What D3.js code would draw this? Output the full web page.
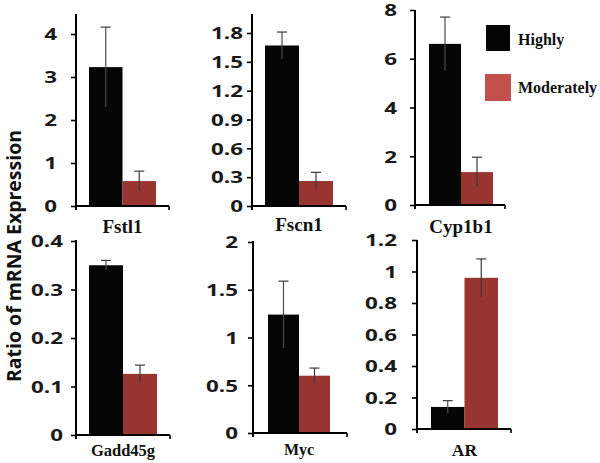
<!DOCTYPE html>
<html>
<head>
<meta charset="utf-8">
<script src="https://cdn.jsdelivr.net/npm/d3@7"></script>
<style>
html,body{margin:0;padding:0;background:#fff;}
svg{display:block;}
</style>
</head>
<body>
<svg id="chart" width="600" height="463"></svg>
<script>
// ---- data ----
const genes = ["Fstl1", "Fscn1", "Cyp1b1", "Gadd45g", "Myc", "AR"];
const groups = ["Highly", "Moderately"];
const highlyMean = [3.23, 1.67, 6.61, 0.35, 1.24, 0.14];
const highlyErr = [0.93, 0.14, 1.10, 0.01, 0.35, 0.04];
const moderatelyMean = [0.58, 0.26, 1.35, 0.126, 0.60, 0.96];
const moderatelyErr = [0.23, 0.09, 0.61, 0.018, 0.08, 0.12];
const yTicks = [
  [0, 1, 2, 3, 4],
  [0, 0.3, 0.6, 0.9, 1.2, 1.5, 1.8],
  [0, 2, 4, 6, 8],
  [0, 0.1, 0.2, 0.3, 0.4],
  [0, 0.5, 1, 1.5, 2],
  [0, 0.2, 0.4, 0.6, 0.8, 1, 1.2]
];
const yTitle = "Ratio of mRNA Expression";

// ---- layout (pixel placement of each panel) ----
const layout = [
  {ax: 76,  y0: 206, yMax: 34,  top: 14,  x0: 89,  x1: 156, xEnd: 169, base: 233, fs: 19, gap: 19},
  {ax: 252, y0: 206, yMax: 33,  top: 14,  x0: 265, x1: 333, xEnd: 346, base: 231, fs: 19, gap: 9},
  {ax: 415, y0: 205, yMax: 10,  top: 10,  x0: 429, x1: 493, xEnd: 505, base: 233, fs: 19, gap: 18},
  {ax: 76,  y0: 435, yMax: 241, top: 240, x0: 89,  x1: 157, xEnd: 170, base: 456, fs: 16.5, gap: 13},
  {ax: 253, y0: 433, yMax: 242, top: 241, x0: 268, x1: 330, xEnd: 347, base: 455, fs: 16, gap: 15},
  {ax: 417, y0: 429, yMax: 240, top: 240, x0: 431, x1: 498, xEnd: 511, base: 456, fs: 17.5, gap: 20}
];
const barColor = {Highly: "#050505", Moderately: "#983530"};
const legendColor = {Highly: "#050505", Moderately: "#c4504d"};
const SX = 1.4; // horizontal stretch of sans labels in the original

const svg = d3.select("#chart");

layout.forEach((L, i) => {
  const g = svg.append("g");
  const y = d3.scaleLinear().domain([0, d3.max(yTicks[i])]).range([L.y0, L.yMax]);
  const x = d3.scaleBand().domain(groups).range([L.x0, L.x1]).paddingInner(0);
  const means = [highlyMean[i], moderatelyMean[i]];
  const errs = [highlyErr[i], moderatelyErr[i]];
  const rows = groups.map((k, j) => ({k, v: means[j], e: errs[j]}));

  g.selectAll("rect.bar").data(rows).join("rect")
    .attr("class", "bar")
    .attr("x", d => x(d.k))
    .attr("width", x.bandwidth())
    .attr("y", d => y(d.v))
    .attr("height", d => L.y0 - y(d.v))
    .attr("fill", d => barColor[d.k]);

  // error bars
  const eb = g.selectAll("g.err").data(rows).join("g").attr("class", "err");
  eb.append("line")
    .attr("x1", d => x(d.k) + x.bandwidth() / 2)
    .attr("x2", d => x(d.k) + x.bandwidth() / 2)
    .attr("y1", d => y(d.v - d.e))
    .attr("y2", d => y(d.v + d.e))
    .attr("stroke", d => d.k === "Highly" ? "#4a4a4a" : "#3a3a3a")
    .attr("stroke-width", 1.2);
  eb.append("line")
    .attr("x1", d => x(d.k) + x.bandwidth() / 2 - 5)
    .attr("x2", d => x(d.k) + x.bandwidth() / 2 + 5)
    .attr("y1", d => y(d.v + d.e))
    .attr("y2", d => y(d.v + d.e))
    .attr("stroke", "#3a3a3a")
    .attr("stroke-width", 1.2);

  // y axis
  const ax = g.append("g")
    .attr("transform", `translate(${L.ax},0)`)
    .call(d3.axisLeft(y).tickValues(yTicks[i]).tickSize(5).tickFormat(d3.format("~g")));
  ax.select(".domain").remove();
  ax.selectAll(".tick line").attr("stroke", "#000").attr("stroke-width", 1.6);
  ax.selectAll(".tick text")
    .attr("x", -L.gap / SX)
    .attr("dy", "0.36em")
    .attr("transform", `scale(${SX},1)`)
    .attr("font-family", "'Open Sans', sans-serif")
    .attr("font-weight", "bold")
    .attr("font-size", 16)
    .attr("fill", "#1a1a1a");
  ax.append("line")
    .attr("x1", 0).attr("x2", 0)
    .attr("y1", L.y0 + 4).attr("y2", L.top)
    .attr("stroke", "#000").attr("stroke-width", 2);

  // x axis
  g.append("line")
    .attr("x1", L.ax).attr("x2", L.xEnd)
    .attr("y1", L.y0).attr("y2", L.y0)
    .attr("stroke", "#000").attr("stroke-width", 2);
  g.append("line")
    .attr("x1", L.xEnd).attr("x2", L.xEnd)
    .attr("y1", L.y0).attr("y2", L.y0 + 4)
    .attr("stroke", "#000").attr("stroke-width", 1.6);

  // category label
  g.append("text")
    .attr("x", x("Moderately"))
    .attr("y", L.base)
    .attr("text-anchor", "middle")
    .attr("font-family", "'Liberation Serif', 'Times New Roman', serif")
    .attr("font-weight", "bold")
    .attr("font-size", L.fs)
    .attr("fill", "#111")
    .text(genes[i]);
});

// legend
const legendPos = [{x: 486, y: 25, w: 24, h: 26, ty: 45}, {x: 485, y: 74, w: 26, h: 27, ty: 93}];
groups.forEach((k, j) => {
  const p = legendPos[j];
  svg.append("rect").attr("x", p.x).attr("y", p.y).attr("width", p.w).attr("height", p.h)
    .attr("fill", legendColor[k]);
  svg.append("text").attr("x", 518).attr("y", p.ty)
    .attr("font-family", "'Liberation Serif', 'Times New Roman', serif")
    .attr("font-weight", "bold").attr("font-size", 16).attr("fill", "#111")
    .text(k);
});

// y title
svg.append("text")
  .attr("transform", "translate(21,256) rotate(-90)")
  .attr("text-anchor", "middle")
  .attr("font-family", "'Open Sans', sans-serif")
  .attr("font-weight", "bold")
  .attr("font-size", 19.5)
  .attr("textLength", 252)
  .attr("lengthAdjust", "spacingAndGlyphs")
  .attr("fill", "#111")
  .text(yTitle);
</script>
</body>
</html>
